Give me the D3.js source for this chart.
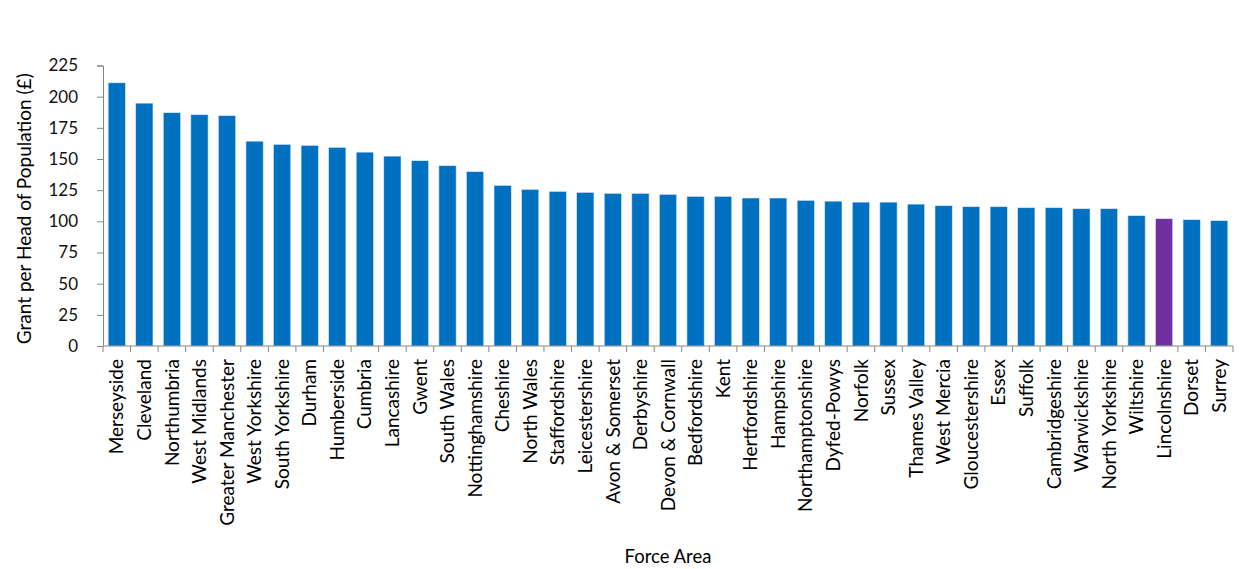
<!DOCTYPE html>
<html>
<head>
<meta charset="utf-8">
<script src="https://cdn.jsdelivr.net/npm/d3@7"></script>
<style>
  body { margin: 0; background: #fff; }
  text { font-family: Lato, "Open Sans", sans-serif; fill: #000; }
</style>
</head>
<body>
<svg width="1248" height="569"></svg>
<script>
const forces = ["Merseyside", "Cleveland", "Northumbria", "West Midlands", "Greater Manchester",
  "West Yorkshire", "South Yorkshire", "Durham", "Humberside", "Cumbria", "Lancashire", "Gwent",
  "South Wales", "Nottinghamshire", "Cheshire", "North Wales", "Staffordshire", "Leicestershire",
  "Avon & Somerset", "Derbyshire", "Devon & Cornwall", "Bedfordshire", "Kent", "Hertfordshire",
  "Hampshire", "Northamptonshire", "Dyfed-Powys", "Norfolk", "Sussex", "Thames Valley",
  "West Mercia", "Gloucestershire", "Essex", "Suffolk", "Cambridgeshire", "Warwickshire",
  "North Yorkshire", "Wiltshire", "Lincolnshire", "Dorset", "Surrey"];

const grantPerHead = [211.1, 194.8, 187.1, 185.5, 184.7, 164.3, 161.7, 160.9, 159.3, 155.5, 152.3,
  148.6, 144.6, 139.8, 128.8, 125.6, 124.0, 123.2, 122.4, 122.4, 121.6, 120.0, 120.0, 118.7, 118.7,
  116.8, 116.2, 115.4, 115.4, 113.8, 112.5, 111.7, 111.7, 110.9, 110.9, 110.1, 110.1, 104.5, 102.1,
  101.3, 100.5];

const yTicks = [0, 25, 50, 75, 100, 125, 150, 175, 200, 225];
const highlight = "Lincolnshire";

let data = forces.map((f, i) => ({ force: f, value: grantPerHead[i] }));

let svg = d3.select("svg");
let margin = { left: 103, right: 15, top: 65.5, bottom: 223 };
let width = 1248 - margin.left - margin.right;
let height = 569 - margin.top - margin.bottom;

let g = svg.append("g").attr("transform", `translate(${margin.left},${margin.top})`);

let x = d3.scaleBand().domain(forces).range([0, width]).paddingInner(0.375).paddingOuter(0.1875);
let y = d3.scaleLinear().domain([0, 225]).range([height, 0]);

g.selectAll(".bar")
  .data(data)
  .join("rect")
  .attr("x", (d) => x(d.force))
  .attr("y", (d) => y(d.value))
  .attr("width", x.bandwidth())
  .attr("height", (d) => height - y(d.value))
  .style("fill", (d) => (d.force == highlight ? "#7030A0" : "#0070C0"))
  .style("stroke", "#d6e6f5")
  .style("stroke-width", 0.6);

// y axis
let yAxis = g.append("g").call(d3.axisLeft(y).tickValues(yTicks).tickSize(6).tickPadding(19));
yAxis.select(".domain").attr("stroke", "#868686");
yAxis.selectAll(".tick line").attr("stroke", "#868686");
yAxis.selectAll(".tick text").style("font-size", "17px").style("fill", "#111");

// x axis: ticks between categories
let xg = g.append("g").attr("transform", `translate(0,${height})`);
xg.append("line").attr("x1", 0).attr("x2", width).attr("stroke", "#868686");
xg.selectAll(".sep")
  .data(d3.range(forces.length + 1))
  .join("line")
  .attr("x1", (i) => i * x.step())
  .attr("x2", (i) => i * x.step())
  .attr("y1", 0)
  .attr("y2", 6)
  .attr("stroke", "#868686");

xg.selectAll(".lab")
  .data(forces)
  .join("text")
  .attr("transform", (d) => `translate(${x(d) + x.bandwidth() / 2},13) rotate(-90)`)
  .attr("dy", "0.35em")
  .attr("text-anchor", "end")
  .style("font-size", "19px")
  .text((d) => d);

svg.append("text")
  .attr("transform", `translate(31,${margin.top + height / 2 + 3}) rotate(-90)`)
  .attr("text-anchor", "middle")
  .style("font-size", "19px")
  .text("Grant per Head of Population (£)");

svg.append("text")
  .attr("x", margin.left + width / 2)
  .attr("y", 563)
  .attr("text-anchor", "middle")
  .style("font-size", "18.5px")
  .text("Force Area");
</script>
</body>
</html>
